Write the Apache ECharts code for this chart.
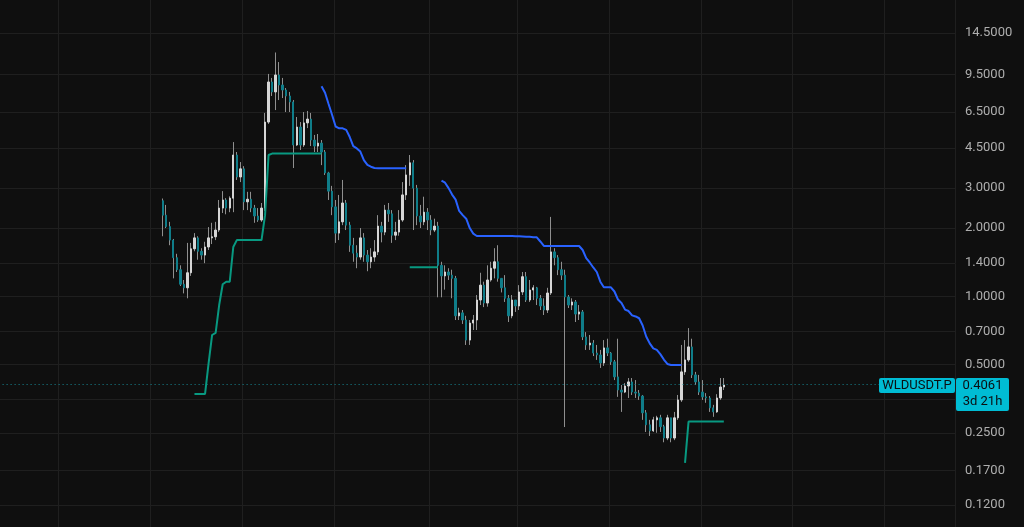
<!DOCTYPE html>
<html><head><meta charset="utf-8">
<script src="https://cdn.jsdelivr.net/npm/echarts@6/dist/echarts.min.js"></script>
<style>html,body{margin:0;padding:0;background:#0f0f0f;}#c{width:1024px;height:527px;}</style>
</head><body><div id="c"></div>
<script>
// ---------------- data ----------------
const symbolName = 'WLDUSDT.P';
const lastPrice = 0.4061;
const countdown = '3d 21h';
const priceTicks = [14.5, 9.5, 6.5, 4.5, 3.0, 2.0, 1.4, 1.0, 0.7, 0.5, 0.25, 0.17, 0.12];
const gridPrices = [14.5, 9.5, 6.5, 4.5, 3.0, 2.0, 1.4, 1.0, 0.7, 0.5, 0.35, 0.25, 0.17, 0.12];

const openP = [
 2.64, 2.28, 2.03, 1.77, 1.48, 1.31, 1.13, 1.09, 1.27, 1.62,
 1.81, 1.58, 1.52, 1.65, 1.81, 1.83, 1.96, 2.45, 2.66, 2.45,
 2.71, 4.20, 3.36, 3.65, 2.61, 2.68, 2.45, 2.26, 2.17, 2.45,
 5.87, 8.82, 7.97, 9.47, 8.55, 8.13, 7.65, 7.20, 4.65, 5.58,
 4.65, 5.82, 6.05, 4.89, 4.60, 4.74, 4.33, 3.50, 2.91, 2.48,
 1.90, 2.13, 2.58, 2.06, 1.68, 1.55, 1.49, 1.81, 1.52, 1.42,
 1.49, 1.57, 2.04, 1.92, 2.40, 2.31, 1.86, 1.92, 2.17, 2.80,
 3.43, 3.88, 3.00, 2.26, 2.13, 2.35, 2.17, 1.96, 2.04, 1.37,
 1.23, 1.28, 1.24, 1.20, 0.82, 0.845, 0.786, 0.641, 0.762, 0.786,
 0.963, 1.12, 0.934, 1.18, 1.33, 1.42, 1.20, 1.09, 0.98, 0.82,
 0.963, 0.906, 1.045, 1.22, 0.963, 1.066, 1.09, 0.98, 0.906, 0.87,
 1.034, 1.57, 1.48, 1.31, 1.24, 0.993, 0.915, 0.944, 0.835, 0.853,
 0.662, 0.61, 0.622, 0.562, 0.551, 0.508, 0.592, 0.562, 0.514, 0.441,
 0.386, 0.378, 0.402, 0.419, 0.378, 0.374, 0.363, 0.306, 0.271, 0.255,
 0.285, 0.291, 0.266, 0.237, 0.291, 0.237, 0.291, 0.349, 0.464, 0.524,
 0.598, 0.45, 0.419, 0.378, 0.36, 0.356, 0.322, 0.309, 0.356, 0.398
];
const highP = [
 2.70, 2.53, 2.13, 1.79, 1.54, 1.37, 1.18, 1.72, 1.72, 1.90,
 1.84, 1.63, 1.74, 2.02, 2.11, 2.13, 2.66, 2.91, 2.71, 2.76,
 4.79, 4.33, 3.91, 3.75, 2.89, 2.89, 2.53, 2.45, 2.58, 6.44,
 9.57, 9.19, 11.9, 10.8, 9.19, 8.29, 7.97, 7.34, 6.18, 5.87,
 6.50, 6.57, 6.44, 5.15, 5.20, 4.89, 4.42, 3.54, 3.07, 2.66,
 2.80, 3.26, 2.66, 2.13, 1.81, 1.68, 2.00, 1.90, 1.60, 1.63,
 1.77, 2.28, 2.13, 2.53, 2.58, 2.40, 2.13, 2.40, 3.19, 3.79,
 4.20, 3.99, 3.10, 2.53, 2.75, 2.45, 2.28, 2.20, 2.13, 1.42,
 1.37, 1.33, 1.31, 1.23, 0.89, 0.87, 0.82, 0.786, 0.827, 1.013,
 1.27, 1.16, 1.37, 1.42, 1.63, 1.68, 1.20, 1.24, 1.013, 1.013,
 0.963, 1.12, 1.28, 1.28, 1.18, 1.12, 1.10, 1.013, 0.98, 1.09,
 2.24, 1.63, 1.52, 1.42, 1.31, 1.013, 0.98, 0.963, 0.915, 0.87,
 0.695, 0.675, 0.641, 0.61, 0.58, 0.641, 0.65, 0.568, 0.524, 0.65,
 0.406, 0.414, 0.436, 0.436, 0.427, 0.386, 0.367, 0.315, 0.285, 0.294,
 0.297, 0.30, 0.271, 0.30, 0.291, 0.309, 0.367, 0.61, 0.641, 0.724,
 0.65, 0.464, 0.45, 0.427, 0.374, 0.363, 0.332, 0.37, 0.436, 0.436
];
const lowP = [
 1.84, 2.00, 1.68, 1.20, 1.28, 1.11, 1.03, 0.98, 1.23, 1.58,
 1.45, 1.45, 1.40, 1.60, 1.70, 1.77, 1.92, 2.33, 2.30, 2.35,
 2.35, 3.26, 3.19, 2.40, 2.40, 2.35, 2.11, 2.13, 2.13, 2.38,
 5.76, 7.65, 6.63, 7.34, 7.49, 6.50, 6.50, 3.68, 4.60, 4.42,
 4.56, 5.52, 4.60, 4.33, 4.33, 3.79, 3.43, 2.66, 2.28, 1.72,
 1.77, 2.06, 1.96, 1.57, 1.42, 1.33, 1.45, 1.42, 1.29, 1.33,
 1.42, 1.52, 1.73, 1.86, 2.13, 1.72, 1.77, 1.85, 2.13, 2.66,
 3.07, 1.96, 2.06, 2.00, 2.06, 1.96, 1.86, 1.92, 0.99, 0.99,
 1.07, 1.18, 0.98, 0.786, 0.786, 0.755, 0.61, 0.61, 0.71, 0.71,
 0.915, 0.896, 0.90, 1.16, 1.20, 1.16, 1.04, 0.944, 0.77, 0.80,
 0.853, 0.87, 1.013, 0.944, 0.944, 0.963, 0.915, 0.87, 0.827, 0.844,
 1.013, 1.37, 1.24, 1.18, 0.265, 0.888, 0.87, 0.77, 0.786, 0.641,
 0.58, 0.58, 0.545, 0.524, 0.483, 0.493, 0.545, 0.498, 0.427, 0.36,
 0.309, 0.374, 0.356, 0.367, 0.356, 0.349, 0.285, 0.252, 0.242, 0.252,
 0.25, 0.252, 0.227, 0.232, 0.227, 0.232, 0.285, 0.342, 0.45, 0.514,
 0.436, 0.406, 0.367, 0.349, 0.339, 0.309, 0.294, 0.306, 0.349, 0.386
];
const closeP = [
 2.28, 2.03, 1.77, 1.48, 1.31, 1.13, 1.09, 1.27, 1.62, 1.81,
 1.58, 1.52, 1.65, 1.81, 1.83, 1.96, 2.45, 2.66, 2.45, 2.71,
 4.20, 3.36, 3.65, 2.61, 2.68, 2.45, 2.26, 2.17, 2.45, 5.87,
 8.82, 7.97, 9.47, 8.55, 8.13, 7.65, 7.20, 4.65, 5.58, 4.65,
 5.82, 6.05, 4.89, 4.60, 4.74, 4.33, 3.50, 2.91, 2.48, 1.90,
 2.13, 2.58, 2.06, 1.68, 1.55, 1.49, 1.81, 1.52, 1.42, 1.49,
 1.57, 2.04, 1.92, 2.40, 2.31, 1.86, 1.92, 2.17, 2.80, 3.43,
 3.88, 3.00, 2.26, 2.13, 2.35, 2.17, 1.96, 2.04, 1.37, 1.23,
 1.28, 1.24, 1.20, 0.82, 0.845, 0.786, 0.641, 0.762, 0.786, 0.963,
 1.12, 0.934, 1.18, 1.33, 1.42, 1.20, 1.09, 0.98, 0.82, 0.963,
 0.906, 1.045, 1.22, 0.963, 1.066, 1.09, 0.98, 0.906, 0.87, 1.034,
 1.57, 1.48, 1.31, 1.24, 0.993, 0.915, 0.944, 0.835, 0.853, 0.662,
 0.61, 0.622, 0.562, 0.551, 0.508, 0.592, 0.562, 0.514, 0.441, 0.386,
 0.378, 0.402, 0.419, 0.378, 0.374, 0.363, 0.306, 0.271, 0.255, 0.285,
 0.291, 0.266, 0.237, 0.291, 0.237, 0.291, 0.349, 0.464, 0.524, 0.598,
 0.45, 0.419, 0.378, 0.36, 0.356, 0.322, 0.309, 0.356, 0.398, 0.4061
];
// Supertrend (up = support, teal; down = resistance, blue)
const stUp = [
 null, null, null, null, null, null, null, null, null, 0.371,
 0.371, 0.371, 0.371, 0.506, 0.675, 0.69, 0.915, 1.13, 1.16, 1.16,
 1.65, 1.77, 1.77, 1.77, 1.77, 1.77, 1.77, 1.77, 1.77, 2.28,
 4.20, 4.26, 4.27, 4.27, 4.27, 4.27, 4.27, 4.27, 4.27, 4.27,
 4.27, 4.27, 4.27, 4.27, 4.27, 4.27, null, null, null, null,
 null, null, null, null, null, null, null, null, null, null,
 null, null, null, null, null, null, null, null, null, null,
 1.342, 1.342, 1.342, 1.342, 1.342, 1.342, 1.342, 1.342, 1.342, null,
 null, null, null, null, null, null, null, null, null, null,
 null, null, null, null, null, null, null, null, null, null,
 null, null, null, null, null, null, null, null, null, null,
 null, null, null, null, null, null, null, null, null, null,
 null, null, null, null, null, null, null, null, null, null,
 null, null, null, null, null, null, null, null, null, null,
 null, null, null, null, null, null, null, null, 0.184, 0.28,
 0.28, 0.28, 0.28, 0.28, 0.28, 0.28, 0.28, 0.28, 0.28, 0.28
];
const stDown = [
 null, null, null, null, null, null, null, null, null, null,
 null, null, null, null, null, null, null, null, null, null,
 null, null, null, null, null, null, null, null, null, null,
 null, null, null, null, null, null, null, null, null, null,
 null, null, null, null, null, 8.45, 7.90, 7.05, 6.31, 5.61,
 5.51, 5.51, 5.42, 5.04, 4.60, 4.49, 4.35, 3.99, 3.80, 3.73,
 3.68, 3.67, 3.67, 3.67, 3.67, 3.67, 3.67, 3.67, 3.67, 3.67,
 null, null, null, null, null, null, null, null, null, 3.24,
 3.17, 3.00, 2.81, 2.67, 2.38, 2.28, 2.20, 2.00, 1.89, 1.845,
 1.845, 1.845, 1.845, 1.845, 1.845, 1.845, 1.845, 1.845, 1.845, 1.845,
 1.84, 1.84, 1.835, 1.83, 1.83, 1.82, 1.82, 1.745, 1.667, 1.667,
 1.667, 1.667, 1.667, 1.667, 1.667, 1.667, 1.667, 1.667, 1.667, 1.60,
 1.475, 1.41, 1.34, 1.28, 1.16, 1.096, 1.096, 1.096, 1.05, 0.968,
 0.934, 0.874, 0.861, 0.824, 0.815, 0.80, 0.743, 0.665, 0.62, 0.589,
 0.58, 0.556, 0.526, 0.503, 0.498, 0.498, 0.498, 0.498, null, null,
 null, null, null, null, null, null, null, null, null, null
];

// ---------------- layout / style ----------------
const SLOTS = 271;          // time slots across the plot
const FIRST = 46;           // slot of the first candle
const V_GRID = [17, 43, 69, 95, 122, 147, 173, 199, 225, 251];
const BG = '#0f0f0f';
const WICK = '#8f8f8f';
const BULL = '#d6d6d6';
const BEAR = '#0f7d89';
const UPC = '#089981';
const DNC = '#2962ff';
const LBL = '#00bcd4';
const FONT = '13px Roboto';

const L = Math.log10;
const slots = Array.from({length: SLOTS}, (_, i) => String(i));
const wickData = closeP.map((c, k) => [FIRST + k, L(openP[k]), L(c), L(lowP[k]), L(highP[k])]);
const bodyData = closeP.map((c, k) => [FIRST + k, L(openP[k]), L(c), L(Math.min(openP[k], c)), L(Math.max(openP[k], c))]);
function pad(arr) {
  const out = slots.map(() => '-');
  arr.forEach((v, k) => { if (v != null) out[FIRST + k] = L(v); });
  return out;
}

const chart = echarts.init(document.getElementById('c'), null, {renderer: 'canvas'});
chart.setOption({
  backgroundColor: BG,
  animation: false,
  grid: {left: -1.4, right: 69, top: 0, bottom: 0, outerBoundsMode: 'none', containLabel: false},
  xAxis: {
    type: 'category', data: slots, boundaryGap: true,
    axisLine: {show: false}, axisTick: {show: false}, axisLabel: {show: false},
    splitLine: {show: true, interval: (i) => V_GRID.indexOf(i) >= 0, lineStyle: {color: '#1f1f1f', width: 1}}
  },
  yAxis: {
    type: 'value', position: 'right', scale: true,
    min: L(0.0960), max: L(20.28),
    axisLine: {show: false},
    axisTick: {show: false, customValues: gridPrices.map(L)},
    axisLabel: {
      customValues: priceTicks.map(L), margin: 10, color: '#aeaeae',
      fontFamily: 'Roboto', fontSize: 13,
      formatter: (v) => Math.pow(10, v).toFixed(4)
    },
    splitLine: {show: true, lineStyle: {color: '#1f1f1f', width: 1}}
  },
  series: [
    {
      type: 'candlestick', name: 'wick', z: 3, barWidth: 1,
      encode: {x: 0, y: [1, 2, 3, 4]},
      itemStyle: {color: WICK, color0: WICK, borderColor: WICK, borderColor0: WICK, borderWidth: 1},
      data: wickData,
      markLine: {
        silent: true, symbol: ['none', 'none'], label: {show: false},
        lineStyle: {color: '#178894', type: [1, 3], width: 1},
        data: [{yAxis: L(lastPrice)}]
      }
    },
    {
      type: 'candlestick', name: 'body', z: 4, barWidth: 1.9,
      encode: {x: 0, y: [1, 2, 3, 4]},
      itemStyle: {color: BULL, color0: BEAR, borderColor: BULL, borderColor0: BEAR, borderWidth: 1},
      data: bodyData
    },
    {
      type: 'line', name: 'up', z: 5, data: pad(stUp), showSymbol: false, connectNulls: false,
      lineStyle: {color: UPC, width: 2}
    },
    {
      type: 'line', name: 'down', z: 5, data: pad(stDown), showSymbol: false, connectNulls: false,
      lineStyle: {color: DNC, width: 2}
    }
  ]
});

const yPx = chart.convertToPixel({yAxisIndex: 0}, L(lastPrice));
chart.setOption({
  graphic: [
    {type: 'rect', z: 100, shape: {x: 879, y: yPx - 7, width: 76, height: 15, r: 2}, style: {fill: LBL}},
    {type: 'text', z: 101, x: 917, y: yPx + 0.5, style: {text: symbolName, fill: '#0b0e11', font: FONT, align: 'center', verticalAlign: 'middle'}},
    {type: 'rect', z: 100, shape: {x: 956, y: yPx - 7, width: 53, height: 33, r: 2}, style: {fill: LBL}},
    {type: 'text', z: 101, x: 982.5, y: yPx + 0.5, style: {text: lastPrice.toFixed(4), fill: '#0b0e11', font: FONT, align: 'center', verticalAlign: 'middle'}},
    {type: 'text', z: 101, x: 982.5, y: yPx + 17, style: {text: countdown, fill: '#0b0e11', font: FONT, align: 'center', verticalAlign: 'middle'}}
  ]
});
</script>
</body></html>
